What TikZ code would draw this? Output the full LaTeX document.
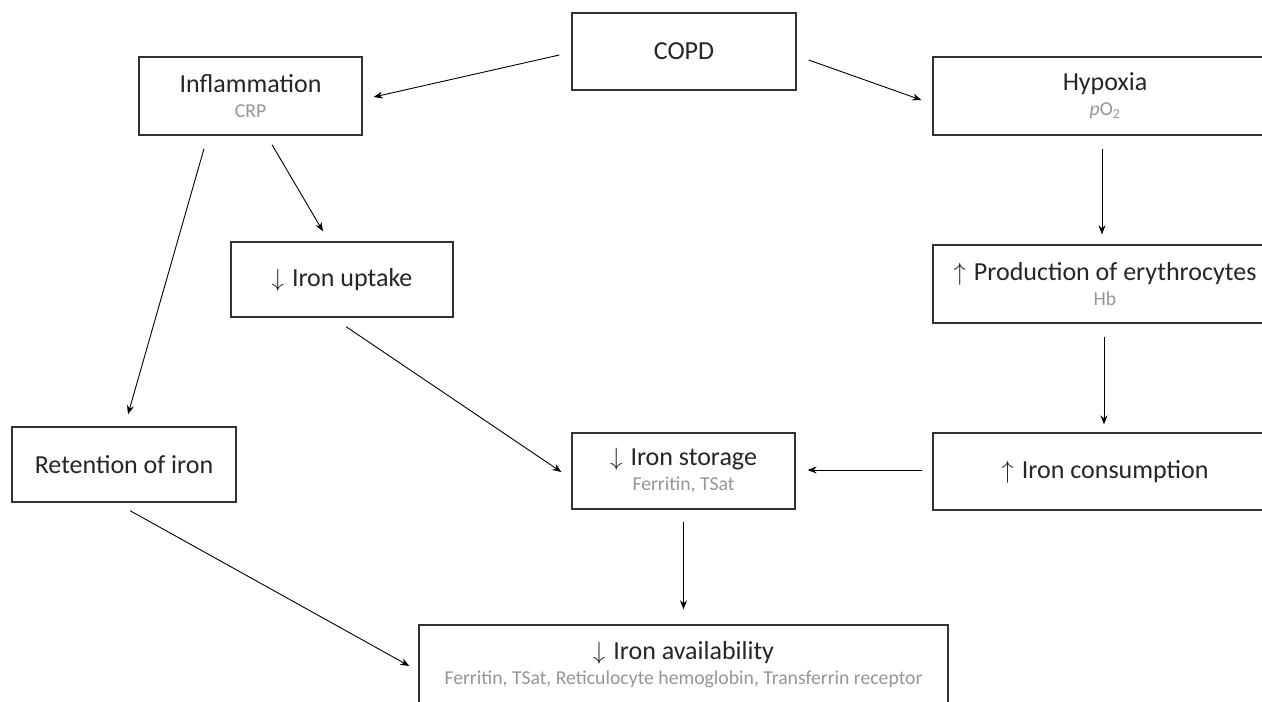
\documentclass[tikz,border=0pt]{standalone}
\usepackage{fontspec}
\setmainfont{Carlito}
\usetikzlibrary{arrows.meta,calc}
\definecolor{subgray}{RGB}{150,150,150}
\definecolor{boxline}{RGB}{50,50,50}
\newcommand{\subtx}[1]{{\color{subgray}\fontsize{19.7}{22}\selectfont #1}}
\newcommand{\up}{$\uparrow$\hspace{8pt}}
\newcommand{\dn}{$\downarrow$\hspace{8pt}}
\tikzset{
  box/.style={draw=boxline, line width=1.3pt, fill=white, inner sep=0pt,
    align=center, font=\fontsize{26}{30}\selectfont, text=black!85},
  conn/.style={-{Stealth[length=9pt,width=7pt]}, line width=0.9pt, black}
}
\begin{document}
\begin{tikzpicture}[x=1pt,y=-1pt]
\clip (0,0) rectangle (1262,702);
\fill[white] (0,0) rectangle (1262,702);
% boxes
\node[box, minimum width=224pt, minimum height=77pt] (copd) at (684,51.5) {COPD};
\node[box, minimum width=223pt, minimum height=78pt] (infl) at (250.5,96) {Inflammation\\[-5pt]\subtx{CRP}};
\node[box, minimum width=344pt, minimum height=78pt] (hyp) at (1105,96) {Hypoxia\\[-5pt]\subtx{\textit{p}O\textsubscript{2}}};
\node[box, minimum width=344pt, minimum height=78pt] (prod) at (1105,284) {\up Production of erythrocytes\\[-5pt]\subtx{Hb}};
\node[box, minimum width=344pt, minimum height=77pt] (cons) at (1105,471.5) {\up Iron consumption};
\node[box, minimum width=223pt, minimum height=76pt] (stor) at (683.5,471) {\dn Iron storage\\[-5pt]\subtx{Ferritin, TSat}};
\node[box, minimum width=222pt, minimum height=75pt] (upt) at (342,279.5) {\dn Iron uptake};
\node[box, minimum width=224pt, minimum height=75pt] (ret) at (124,464.5) {Retention of iron};
\node[box, minimum width=529pt, minimum height=80pt] (avail) at (683.5,665) {\dn Iron availability\\[-5pt]\subtx{Ferritin, TSat, Reticulocyte hemoglobin, Transferrin receptor}};
% connectors
\draw[conn] ([shift={(-12,3.5)}]copd.west) -- ([shift={(11,1)}]infl.east);
\draw[conn] ([shift={(12,8.5)}]copd.east) -- ([shift={(-11,4)}]hyp.west);
\draw[conn] ([shift={(-46.5,13)}]infl.south) -- ([shift={(4,-12)}]ret.north);
\draw[conn] ([shift={(21.5,9)}]infl.south) -- ([shift={(-19,-10)}]upt.north);
\draw[conn] ([shift={(-3,13)}]hyp.south) -- ([shift={(-3,-10)}]prod.north);
\draw[conn] ([shift={(-1,13)}]prod.south) -- ([shift={(-1,-8)}]cons.north);
\draw[conn] ([shift={(-10,-1.5)}]cons.west) -- ([shift={(12,-1)}]stor.east);
\draw[conn] ([shift={(4,9)}]upt.south) -- ([shift={(-10,1)}]stor.west);
\draw[conn] ([shift={(0,12)}]stor.south) -- ([shift={(0,-15)}]avail.north);
\draw[conn] ([shift={(6,8)}]ret.south) -- ([shift={(-9,1)}]avail.west);
\end{tikzpicture}
\end{document}
